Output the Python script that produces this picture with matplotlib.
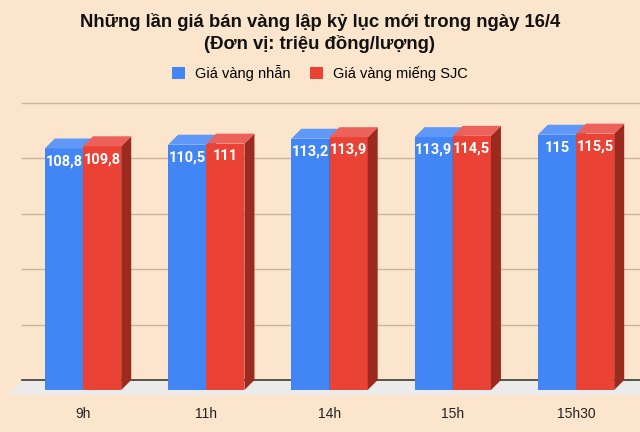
import matplotlib
matplotlib.use("Agg")
import matplotlib.pyplot as plt
from matplotlib.patches import Polygon, Patch

# Data
times = ["9h", "11h", "14h", "15h", "15h30"]
gia_nhan = [108.8, 110.5, 113.2, 113.9, 115]
gia_sjc = [109.8, 111, 113.9, 114.5, 115.5]
grid_values = [0, 25, 50, 75, 100, 125]
series_names = ["Giá vàng nhẫn", "Giá vàng miếng SJC"]

bg = "#fce5cd"
blue = {"front": "#4285f4", "top": "#5f98f6", "side": "#2d5fb5"}
red = {"front": "#ea4335", "top": "#ec625a", "side": "#9c2a1f"}

fig = plt.figure(figsize=(6.4, 4.32), dpi=100, facecolor=bg)
ax = fig.add_axes([0, 37 / 432, 1, 395 / 432])
ax.set_facecolor(bg)
ax.set_xlim(-83 / 123.25, (640 - 83) / 123.25)
ax.set_ylim(-2.25, 175.7)
for s in ax.spines.values():
    s.set_visible(False)

# 3D depth offsets (data units)
dx = 10 / 123.25
dy = 10 / 2.22
bw = 0.31

x0, x1 = ax.get_xlim()
y0, _ = ax.get_ylim()

# floor
ax.add_patch(Polygon([(x0 + 0.06, y0), (x1, y0), (x1, dy - 0.4), (x0 + 0.18, dy - 0.4)],
                     closed=True, facecolor="#ebebeb", edgecolor="none", zorder=1))

# back wall gridlines
for g in grid_values:
    ax.plot([x0 + 0.18, x1], [g + dy, g + dy],
            color="#3a3a3a" if g == 0 else "#c9b59e",
            lw=1.2 if g == 0 else 1.0, zorder=2)


def bar3d(xc, v, c, z):
    left, right = xc - bw / 2, xc + bw / 2
    ax.bar(xc, v, width=bw, color=c["front"], edgecolor="none", zorder=z)
    ax.add_patch(Polygon([(right, 0), (right + dx, dy), (right + dx, v + dy), (right, v)],
                         closed=True, facecolor=c["side"], edgecolor="none", zorder=z))
    ax.add_patch(Polygon([(left, v), (right, v), (right + dx, v + dy), (left + dx, v + dy)],
                         closed=True, facecolor=c["top"], edgecolor="none", zorder=z))


def fmt(v):
    return ("%g" % v).replace(".", ",")


for i, (a, b) in enumerate(zip(gia_nhan, gia_sjc)):
    bar3d(i - bw / 2, a, blue, 3 + 2 * i)
    bar3d(i + bw / 2, b, red, 4 + 2 * i)
    ax.text(i - bw / 2, a - 5.8, fmt(a), ha="center", va="center", color="white",
            fontsize=10.5, fontweight="bold", family="Roboto", zorder=20)
    ax.text(i + bw / 2, b - 5.8, fmt(b), ha="center", va="center", color="white",
            fontsize=10.5, fontweight="bold", family="Roboto", zorder=20)

ax.set_xticks(range(len(times)))
ax.set_xticklabels(times, fontsize=10, family="Liberation Sans", color="#222222")
ax.tick_params(axis="x", length=0, pad=9)
ax.set_yticks([])

fig.text(0.5, 1 - 22 / 432, "Những lần giá bán vàng lập kỷ lục mới trong ngày 16/4",
         ha="center", va="center", fontsize=13.3, fontweight="bold",
         family="Liberation Sans", color="#111111")
fig.text(0.5, 1 - 44 / 432, "(Đơn vị: triệu đồng/lượng)",
         ha="center", va="center", fontsize=13.3, fontweight="bold",
         family="Liberation Sans", color="#111111")

handles = [Patch(facecolor=blue["front"]), Patch(facecolor=red["front"])]
fig.legend(handles, series_names, loc="center", bbox_to_anchor=(0.5, 1 - 73 / 432),
           ncol=2, frameon=False, handlelength=0.9, handleheight=0.85,
           handletextpad=0.7, columnspacing=1.3,
           prop={"family": "Liberation Sans", "size": 10.5})

fig.savefig("out.png", dpi=100, facecolor=bg)
